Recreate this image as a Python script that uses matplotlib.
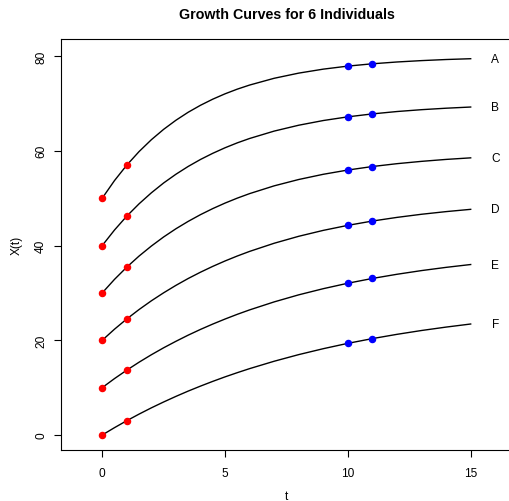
import matplotlib
matplotlib.use("Agg")
import matplotlib.pyplot as plt

# values (half steps where the curves bend most)
t = [0, 0.5, 1, 1.5, 2, 2.5, 3, 3.5, 4, 4.5, 5, 5.5, 6, 7, 8, 9, 10, 11, 12, 13, 14, 15]
names = ["A", "B", "C", "D", "E", "F"]
curve_A = [50, 53.72, 56.98, 59.84, 62.34, 64.53, 66.45, 68.14, 69.61, 70.90, 72.03, 73.02, 73.88,
           75.31, 76.40, 77.24, 77.88, 78.37, 78.75, 79.04, 79.27, 79.44]
curve_B = [40, 43.28, 46.21, 48.81, 51.13, 53.21, 55.05, 56.70, 58.17, 59.47, 60.64, 61.68, 62.60,
           64.16, 65.40, 66.39, 67.17, 67.79, 68.29, 68.68, 68.99, 69.24]
curve_C = [30, 32.86, 35.44, 37.78, 39.89, 41.81, 43.54, 45.10, 46.52, 47.80, 48.96, 50.01, 50.96,
           52.60, 53.94, 55.04, 55.94, 56.68, 57.28, 57.77, 58.18, 58.51]
curve_D = [20, 22.34, 24.50, 26.49, 28.33, 30.02, 31.59, 33.04, 34.37, 35.60, 36.74, 37.79, 38.76,
           40.48, 41.95, 43.20, 44.26, 45.17, 45.94, 46.60, 47.16, 47.64]
curve_E = [10, 11.91, 13.69, 15.37, 16.94, 18.41, 19.78, 21.08, 22.29, 23.42, 24.48, 25.48, 26.41,
           28.10, 29.59, 30.89, 32.04, 33.05, 33.93, 34.71, 35.39, 35.99]
curve_F = [0, 1.55, 3.02, 4.41, 5.73, 6.97, 8.15, 9.27, 10.32, 11.32, 12.27, 13.16, 14.01,
           15.57, 16.97, 18.22, 19.35, 20.35, 21.25, 22.06, 22.78, 23.43]
curves = [curve_A, curve_B, curve_C, curve_D, curve_E, curve_F]

red_t = [0, 1]
blue_t = [10, 11]
label_t = 16

plt.rcParams["font.family"] = ["Liberation Sans", "DejaVu Sans"]

fig = plt.figure(figsize=(5.09, 5.02), dpi=100)
ax = fig.add_axes([0.1198, 0.1016, 0.886, 0.8187])

for name, y in zip(names, curves):
    ax.plot(t, y, color="black", lw=1.0, zorder=2)
    ax.plot(red_t, [y[t.index(v)] for v in red_t], "o", color="red", ms=4.4, mec="red", zorder=3)
    ax.plot(blue_t, [y[t.index(v)] for v in blue_t], "o", color="blue", ms=4.4, mec="blue", zorder=3)
    ax.text(label_t, y[-1], name, ha="center", va="center", fontsize=8.6)

ax.set_xlim(-1.68, 16.68)
ax.set_ylim(-3.17, 83.6)
ax.set_xticks([0, 5, 10, 15])
ax.set_yticks([0, 20, 40, 60, 80])
ax.tick_params(direction="out", length=5, width=0.8, labelsize=8.6)
ax.tick_params(axis="x", pad=7)
ax.tick_params(axis="y", pad=5)
for lab in ax.get_yticklabels():
    lab.set_rotation(90)
    lab.set_va("center")
for s in ax.spines.values():
    s.set_linewidth(0.8)
ax.spines["right"].set_visible(False)

ax.set_xlabel("t", fontsize=8.6, labelpad=8)
ax.set_ylabel("X(t)", fontsize=8.6, labelpad=9)
ax.set_title("Growth Curves for 6 Individuals", fontsize=10.3, fontweight="bold", pad=15)

fig.savefig("out.png", dpi=100)
